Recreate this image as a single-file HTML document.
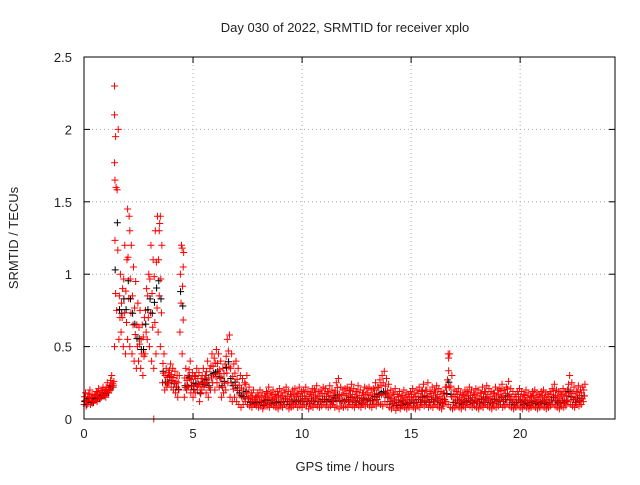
<!DOCTYPE html>
<html><head><meta charset="utf-8"><style>
body{margin:0;background:#fff;}
svg text{font-family:"Liberation Sans",sans-serif;font-size:13px;fill:#222;}
</style></head><body>
<svg id="chart" width="640" height="480" xmlns="http://www.w3.org/2000/svg">
<rect x="0" y="0" width="640" height="480" fill="#fff"/>
<text x="345" y="32" text-anchor="middle">Day 030 of 2022, SRMTID for receiver xplo</text>
<text x="345" y="471" text-anchor="middle">GPS time / hours</text>
<text transform="translate(18,238) rotate(-90)" text-anchor="middle">SRMTID / TECUs</text>
<g id="grid"></g>
<g id="ticks"></g>
<g id="pts"></g>
<rect x="84" y="57" width="531" height="362" fill="none" stroke="#000" stroke-width="1"/>
</svg>
<script>
const xTicks=[0,5,10,15,20];
const yTicks=[0,0.5,1,1.5,2,2.5];
const yTickLabels=["0","0.5","1","1.5","2","2.5"];
const tStart=0, tStep=0.1;
const lowVals=[
.10,.09,.12,.10,.11,.13,.12,.14,.15,.16,
.15,.18,.20,.22,.50,.75,.55,.60,.50,.45,
.55,.50,.45,.40,.35,.40,.35,.30,.45,.55,
.50,.40,.35,.45,.60,.50,.25,.20,.22,.25,
.22,.20,.18,.15,.60,.45,.15,.20,.22,.18,
.15,.18,.20,.12,.20,.22,.18,.15,.20,.25,
.20,.25,.22,.15,.18,.20,.25,.15,.12,.15,
.12,.10,.08,.10,.12,.10,.09,.08,.10,.09,
.08,.09,.07,.10,.09,.08,.10,.09,.08,.07,
.09,.08,.10,.09,.07,.08,.09,.10,.08,.09,
.08,.10,.09,.07,.09,.08,.10,.09,.08,.09,
.10,.09,.08,.09,.10,.08,.09,.07,.09,.08,
.09,.08,.10,.09,.08,.10,.09,.08,.10,.09,
.10,.09,.08,.10,.09,.11,.10,.09,.12,.10,
.08,.07,.09,.06,.08,.07,.09,.08,.07,.08,
.09,.08,.07,.09,.08,.10,.09,.10,.08,.09,
.08,.10,.09,.08,.07,.09,.12,.10,.08,.07,
.08,.09,.08,.07,.09,.08,.10,.09,.08,.09,
.08,.07,.09,.08,.10,.09,.08,.07,.09,.08,
.09,.10,.08,.09,.10,.09,.08,.07,.08,.09,
.08,.07,.09,.08,.07,.08,.09,.08,.07,.08,
.09,.08,.07,.08,.09,.10,.09,.08,.07,.09,
.08,.09,.12,.10,.09,.08,.10,.09,.10,.12];
const highVals=[
.18,.15,.20,.17,.16,.19,.21,.18,.22,.20,
.25,.22,.30,.26,1.60,2.00,1.00,.90,1.20,1.10,
1.40,1.20,1.05,.95,.80,.75,.65,.70,.90,1.00,
1.20,1.10,1.30,1.40,1.35,1.20,.45,.35,.32,.38,
.35,.33,.30,.30,1.20,1.15,.35,.30,.40,.32,
.30,.35,.32,.28,.35,.30,.40,.35,.45,.42,
.48,.45,.40,.35,.38,.55,.58,.45,.38,.40,
.35,.30,.28,.25,.30,.22,.18,.20,.15,.18,
.20,.18,.16,.19,.22,.18,.20,.17,.19,.21,
.18,.20,.22,.19,.17,.20,.21,.18,.22,.19,
.20,.22,.19,.18,.21,.20,.23,.19,.20,.22,
.21,.19,.23,.20,.18,.25,.28,.22,.20,.21,
.22,.20,.24,.21,.19,.23,.20,.18,.22,.21,
.22,.20,.21,.25,.22,.27,.30,.33,.28,.24,
.20,.18,.21,.17,.19,.16,.20,.18,.17,.19,
.21,.18,.20,.22,.19,.24,.20,.25,.19,.22,
.20,.23,.21,.19,.18,.22,.27,.45,.30,.20,
.19,.21,.18,.17,.20,.19,.22,.20,.18,.21,
.20,.18,.22,.19,.23,.21,.19,.18,.22,.20,
.21,.24,.20,.22,.26,.21,.19,.17,.19,.21,
.19,.17,.20,.18,.16,.19,.20,.18,.17,.19,
.20,.18,.17,.19,.21,.24,.20,.19,.18,.21,
.19,.20,.30,.25,.22,.19,.23,.20,.22,.24];
const extraTimes=[1.4,1.4,1.45,1.4,1.42,3.2,3.5,3.45,16.7,16.72,4.5,4.55,2.0,2.1];
const extraVals=[2.3,2.1,1.95,1.77,1.65,0.0,1.4,1.3,0.45,0.42,1.18,1.05,1.45,1.3];

const X0=84,X1=615,Y0=419,Y1=57,XMAX=24.35,YMAX=2.5;
const xs=t=>X0+t/XMAX*(X1-X0);
const ys=v=>Y0-v/YMAX*(Y0-Y1);
const NS="http://www.w3.org/2000/svg";
const grid=document.getElementById('grid'),ticks=document.getElementById('ticks'),pts=document.getElementById('pts');
function mk(tag,attrs,parent){const e=document.createElementNS(NS,tag);for(const k in attrs)e.setAttribute(k,attrs[k]);parent.appendChild(e);return e;}
xTicks.forEach(t=>{const x=xs(t);
 const g=mk('line',{x1:x,x2:x,y1:Y1,y2:Y0,stroke:'#aaa','stroke-dasharray':'1,3'},grid);
 
 
 mk('line',{x1:x,x2:x,y1:Y0,y2:Y0-6,stroke:'#000'},ticks);
 mk('line',{x1:x,x2:x,y1:Y1,y2:Y1+6,stroke:'#000'},ticks);
 const l=mk('text',{x:x,y:Y0+19,'text-anchor':'middle'},ticks);l.textContent=String(t);
 
 
});
yTicks.forEach((v,i)=>{const y=ys(v);
 const g=mk('line',{x1:X0,x2:X1,y1:y,y2:y,stroke:'#aaa','stroke-dasharray':'1,3'},grid);
 
 
 mk('line',{x1:X0,x2:X0+6,y1:y,y2:y,stroke:'#000'},ticks);
 mk('line',{x1:X1,x2:X1-6,y1:y,y2:y,stroke:'#000'},ticks);
 const l=mk('text',{x:X0-12,y:y+5,'text-anchor':'end'},ticks);l.textContent=yTickLabels[i];
 
 
});
function plus(t,v,color){const x=xs(t),y=ys(v);
 const p=mk('path',{d:`M${x-3.5},${y}h7M${x},${y-3.5}v7`,stroke:color,'stroke-width':1,fill:'none'},pts);
 
 
}
lowVals.forEach((v,i)=>{const t=tStart+i*tStep;
 plus(t+0.03,(v+highVals[i])/2-0.02,'#000');
 plus(t,v,'#f00');
 plus(t+0.05,(2*v+highVals[i])/3,'#f00');
 plus(t+0.02,(v+2*highVals[i])/3,'#f00');
 plus(t+0.07,highVals[i],'#f00');
});
extraTimes.forEach((t,i)=>plus(t,extraVals[i],'#f00'));
</script>
</body></html>
